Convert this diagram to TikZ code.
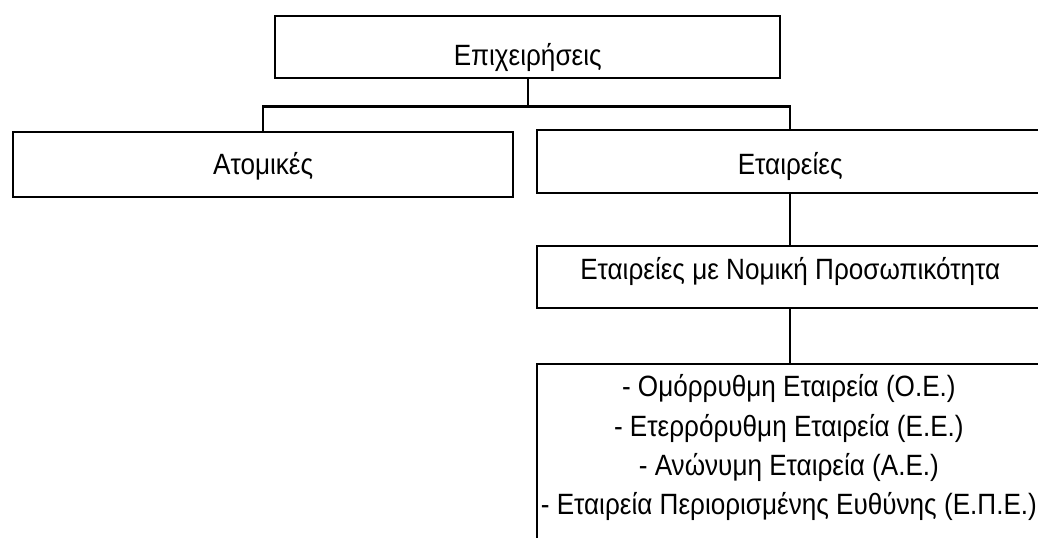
\documentclass[tikz,border=0pt]{standalone}
\usepackage{fontspec}
\setmainfont{Liberation Sans}[FakeStretch=0.89]

\begin{document}
\begin{tikzpicture}[x=0.75pt,y=-0.75pt,line width=1.8pt,
			box/.style={draw,rectangle,anchor=north west,inner sep=0pt,text depth=0pt,font=\fontsize{22}{29.5}\selectfont}]

		\useasboundingbox (0,0) rectangle (1038,538);
		\clip (0,0) rectangle (1038,538);

		\node[box,minimum width=378.75pt,minimum height=46.5pt,text height=27.75pt] (firms) at (274,15) {Επιχειρήσεις};
		\node[box,minimum width=375pt,minimum height=48.75pt,text height=14.2pt] (solo) at (12,131) {Ατομικές};
		\node[box,minimum width=379.5pt,minimum height=47.25pt,text height=18.8pt] (comp) at (536,129) {Εταιρείες};
		\node[box,minimum width=379.5pt,minimum height=46.5pt,text height=4pt] (legal) at (536,245) {Εταιρείες με Νομική Προσωπικότητα};
		\node[box,minimum width=379.5pt,minimum height=180pt] (forms) at (536,363) {};
		\node[font=\fontsize{22}{29.5}\selectfont,align=center,anchor=north,inner sep=0pt] (list) at ([xshift=-1pt,yshift=-8pt]forms.north)
		{- Ομόρρυθμη Εταιρεία (Ο.Ε.)\\
		- Ετερρόρυθμη Εταιρεία (Ε.Ε.)\\
		- Ανώνυμη Εταιρεία (Α.Ε.)\\
		- Εταιρεία Περιορισμένης Ευθύνης (Ε.Π.Ε.)};

		\draw (firms.south) -- ++(0,27) coordinate (split);
		\draw (solo.north) |- (split) -| (comp.north);
		\draw (comp.south) -- (legal.north);
		\draw (legal.south) -- (forms.north);
	\end{tikzpicture}
\end{document}
